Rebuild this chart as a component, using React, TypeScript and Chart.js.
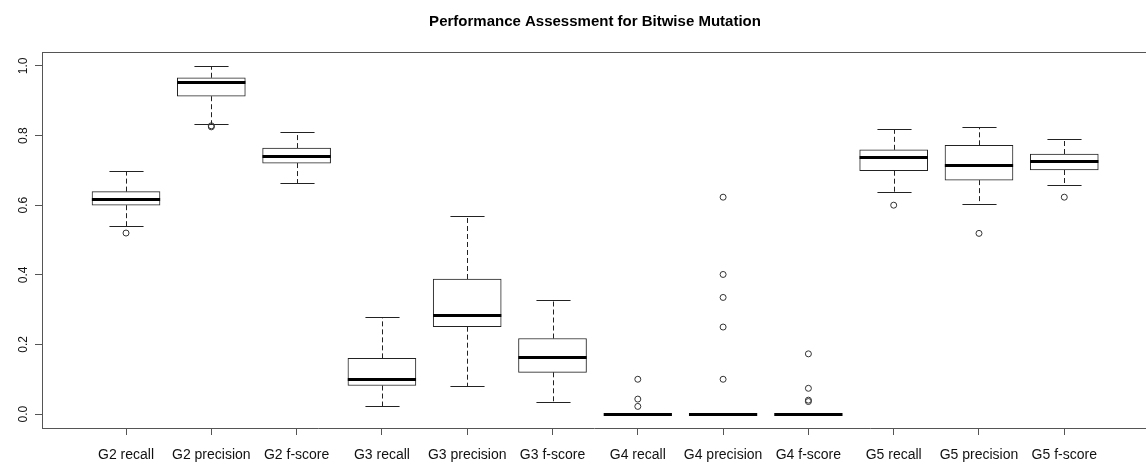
import React, { useEffect, useRef } from 'react';
import { Chart, registerables } from 'chart.js';

Chart.register(...registerables);

const chartTitle = 'Performance Assessment for Bitwise Mutation';
const categories = [
  'G2 recall', 'G2 precision', 'G2 f-score',
  'G3 recall', 'G3 precision', 'G3 f-score',
  'G4 recall', 'G4 precision', 'G4 f-score',
  'G5 recall', 'G5 precision', 'G5 f-score',
];
const whiskerLow = [0.541, 0.832, 0.665, 0.022, 0.080, 0.034, 0, 0, 0, 0.639, 0.603, 0.659];
const quartile1 = [0.600, 0.913, 0.721, 0.082, 0.251, 0.120, 0, 0, 0, 0.699, 0.672, 0.701];
const medians = [0.619, 0.954, 0.740, 0.101, 0.286, 0.164, 0, 0, 0, 0.739, 0.716, 0.726];
const quartile3 = [0.639, 0.966, 0.764, 0.160, 0.388, 0.217, 0, 0, 0, 0.759, 0.772, 0.747];
const whiskerHigh = [0.698, 1.0, 0.809, 0.280, 0.570, 0.328, 0, 0, 0, 0.818, 0.826, 0.790];
const outliers: number[][] = [
  [0.52],
  [0.825, 0.828],
  [],
  [],
  [],
  [],
  [0.10, 0.043, 0.022],
  [0.623, 0.401, 0.335, 0.25, 0.10],
  [0.173, 0.074, 0.04, 0.036],
  [0.60],
  [0.519],
  [0.623],
];
const yTickValues = [0, 0.2, 0.4, 0.6, 0.8, 1.0];
const yTickLabels = ['0.0', '0.2', '0.4', '0.6', '0.8', '1.0'];

const FONT = '"Liberation Sans", Arial, sans-serif';
const AXIS_COLOR = '#555';
const LINE_COLOR = '#222';

export default function App() {
  const ref = useRef<HTMLCanvasElement>(null);

  useEffect(() => {
    if (!ref.current) return;

    const rboxPlugin = {
      id: 'rbox',
      beforeDatasetsDraw(chart: any) {
        const { ctx } = chart;
        const xs = chart.scales.x;
        const ys = chart.scales.y;
        ctx.save();
        ctx.strokeStyle = LINE_COLOR;
        ctx.lineWidth = 1;
        categories.forEach((_, i) => {
          const cx = Math.round(xs.getPixelForValue(i + 1)) + 0.5;
          const hw = xs.getPixelForValue(i + 1.4) - xs.getPixelForValue(i + 1);
          const yLo = Math.round(ys.getPixelForValue(whiskerLow[i])) + 0.5;
          const yQ1 = ys.getPixelForValue(quartile1[i]);
          const yQ3 = ys.getPixelForValue(quartile3[i]);
          const yHi = Math.round(ys.getPixelForValue(whiskerHigh[i])) + 0.5;
          ctx.setLineDash([5, 3]);
          ctx.beginPath();
          ctx.moveTo(cx, yQ3);
          ctx.lineTo(cx, yHi);
          ctx.moveTo(cx, yQ1);
          ctx.lineTo(cx, yLo);
          ctx.stroke();
          ctx.setLineDash([]);
          ctx.beginPath();
          ctx.moveTo(cx - hw / 2, yHi);
          ctx.lineTo(cx + hw / 2, yHi);
          ctx.moveTo(cx - hw / 2, yLo);
          ctx.lineTo(cx + hw / 2, yLo);
          ctx.stroke();
        });
        ctx.restore();
      },
      afterDatasetsDraw(chart: any) {
        const { ctx } = chart;
        const xs = chart.scales.x;
        const ys = chart.scales.y;
        ctx.save();
        ctx.strokeStyle = '#000';
        ctx.lineWidth = 3;
        ctx.lineCap = 'butt';
        categories.forEach((_, i) => {
          const cx = xs.getPixelForValue(i + 1);
          const hw = xs.getPixelForValue(i + 1.4) - cx;
          const ym = Math.round(ys.getPixelForValue(medians[i])) + 0.5;
          ctx.beginPath();
          ctx.moveTo(cx - hw, ym);
          ctx.lineTo(cx + hw, ym);
          ctx.stroke();
        });
        ctx.restore();
      },
      afterDraw(chart: any) {
        const { ctx, chartArea } = chart;
        const ys = chart.scales.y;
        ctx.save();
        ctx.strokeStyle = AXIS_COLOR;
        ctx.lineWidth = 1;
        ctx.beginPath();
        ctx.moveTo(chartArea.left, Math.round(chartArea.top) + 0.5);
        ctx.lineTo(chart.width, Math.round(chartArea.top) + 0.5);
        ctx.stroke();
        ctx.fillStyle = '#000';
        ctx.font = `bold 15px ${FONT}`;
        ctx.textAlign = 'center';
        ctx.textBaseline = 'alphabetic';
        ctx.fillText(chartTitle, 595, 26);
        ctx.font = `12px ${FONT}`;
        ctx.fillStyle = '#111';
        yTickValues.forEach((v, i) => {
          const y = ys.getPixelForValue(v);
          ctx.save();
          ctx.translate(26.5, y);
          ctx.rotate(-Math.PI / 2);
          ctx.textAlign = 'center';
          ctx.textBaseline = 'alphabetic';
          ctx.fillText(yTickLabels[i], 0, 0);
          ctx.restore();
        });
        ctx.restore();
      },
    };

    const chart = new Chart(ref.current, {
      type: 'bar',
      data: {
        datasets: [
          {
            type: 'bar',
            data: categories.map((_, i) => ({ x: i + 1, y: [quartile1[i], quartile3[i]] })) as any,
            backgroundColor: '#ffffff',
            borderColor: LINE_COLOR,
            borderWidth: 1,
            borderSkipped: false,
            barThickness: 68,
          } as any,
          {
            type: 'scatter',
            data: outliers.flatMap((arr, i) => arr.map((v) => ({ x: i + 1, y: v }))),
            pointRadius: 3,
            pointBorderWidth: 1,
            borderColor: '#333',
            backgroundColor: 'rgba(0,0,0,0)',
            pointStyle: 'circle',
            showLine: false,
          } as any,
        ],
      },
      options: {
        responsive: false,
        animation: false,
        events: [],
        layout: { autoPadding: false, padding: { top: 52, left: 0, right: 0, bottom: 0 } },
        plugins: {
          legend: { display: false },
          tooltip: { enabled: false },
          title: { display: false },
        },
        scales: {
          x: {
            type: 'linear',
            offset: false,
            min: 0.015,
            max: 12.958,
            afterBuildTicks: (s: any) => {
              s.ticks = categories.map((_, i) => ({ value: i + 1 }));
            },
            afterFit: (s: any) => {
              s.height = 36;
              s.paddingLeft = 0;
              s.paddingRight = 0;
            },
            ticks: {
              autoSkip: false,
              maxRotation: 0,
              minRotation: 0,
              padding: 12,
              color: '#111',
              font: { size: 14, family: FONT },
              callback: (v: any) => categories[Math.round(Number(v)) - 1] ?? '',
            },
            grid: {
              display: true,
              offset: false,
              drawOnChartArea: false,
              drawTicks: true,
              tickLength: 7,
              color: AXIS_COLOR,
              tickColor: AXIS_COLOR,
            },
            border: { display: true, color: AXIS_COLOR, width: 1 },
          },
          y: {
            type: 'linear',
            min: -0.04,
            max: 1.04,
            afterBuildTicks: (s: any) => {
              s.ticks = yTickValues.map((v) => ({ value: v }));
            },
            afterFit: (s: any) => {
              s.width = 42;
              s.paddingTop = 0;
              s.paddingBottom = 0;
            },
            ticks: { display: false },
            grid: {
              display: true,
              drawOnChartArea: false,
              drawTicks: true,
              tickLength: 7,
              color: AXIS_COLOR,
              tickColor: AXIS_COLOR,
            },
            border: { display: true, color: AXIS_COLOR, width: 1 },
          },
        },
      } as any,
      plugins: [rboxPlugin],
    });

    return () => chart.destroy();
  }, []);

  return (
    <div style={{ position: 'absolute', left: 0, top: 0, width: 1146, height: 464, background: '#fff' }}>
      <canvas ref={ref} width={1146} height={464} style={{ display: 'block' }} />
    </div>
  );
}
